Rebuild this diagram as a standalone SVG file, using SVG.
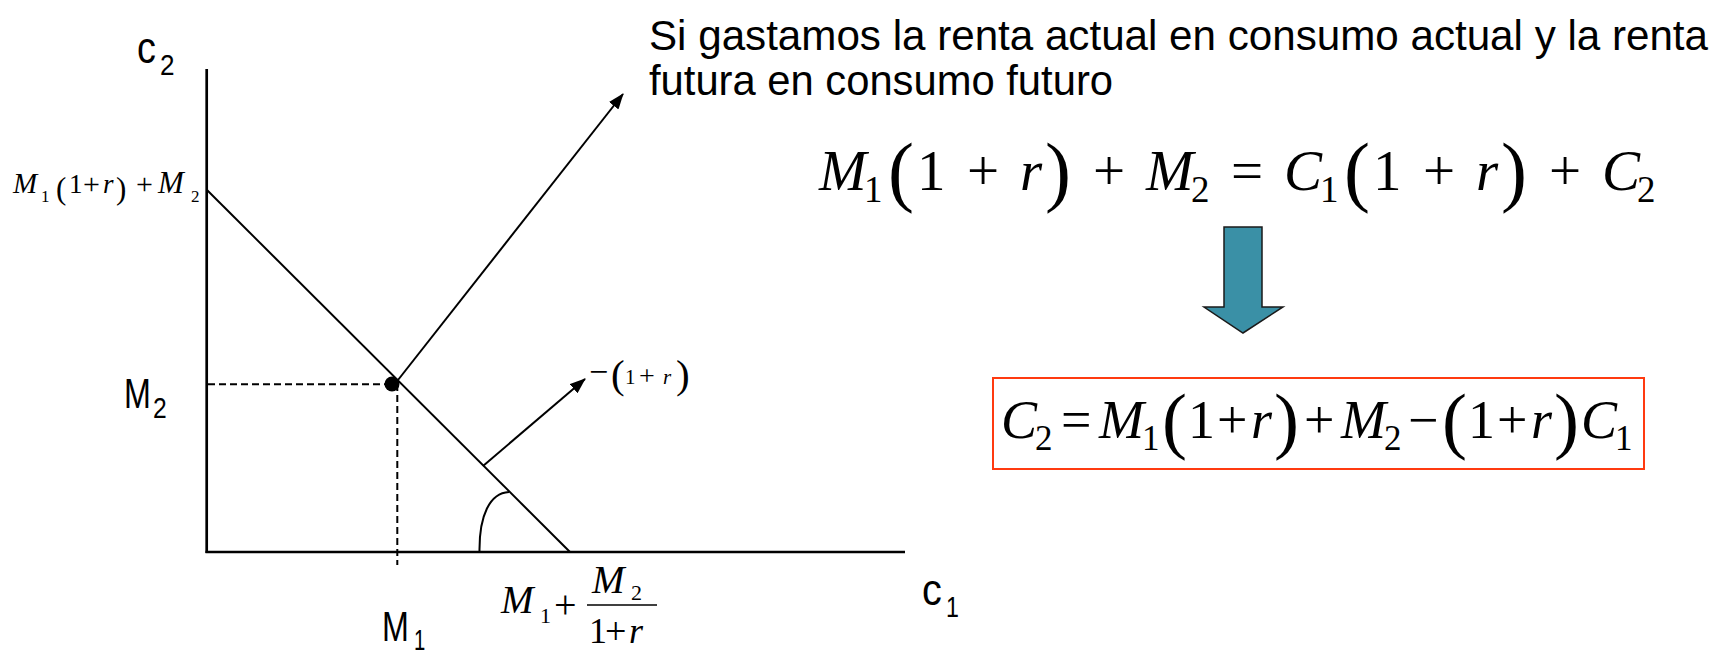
<svg xmlns="http://www.w3.org/2000/svg" width="1731" height="653" viewBox="0 0 1731 653">
<style>
.lbl{font-family:"Liberation Sans",Arial,sans-serif;fill:#000}
.m{font-family:"Liberation Serif","Times New Roman",serif;fill:#000}
.i{font-style:italic}
.ax{stroke:#000;stroke-width:2.7;fill:none}
.ln{stroke:#000;stroke-width:2;fill:none}
.dash{stroke:#000;stroke-width:2;stroke-dasharray:7 4;fill:none}
</style>
<defs>
<marker id="ah" viewBox="0 0 16 12" refX="15" refY="6" markerWidth="16" markerHeight="12" markerUnits="userSpaceOnUse" orient="auto">
<path d="M0,0 L16,6 L0,12 Z" fill="#000"/>
</marker>
</defs>
<rect width="1731" height="653" fill="#fff"/>

<g id="axes">
<line class="ax" x1="206.7" y1="69" x2="206.7" y2="553"/>
<line class="ax" x1="205.5" y1="552" x2="905" y2="552"/>
</g>

<g id="budget-line">
<line class="ln" x1="207" y1="190" x2="570" y2="552"/>
<path class="ln" d="M479.5,552 C479,515 490,493 509,492"/>
</g>

<g id="endowment">
<line class="dash" x1="208" y1="384.3" x2="392" y2="384.3"/>
<line class="dash" x1="397.3" y1="384" x2="397.3" y2="565"/>
<circle cx="392" cy="384" r="7.5" fill="#000"/>
</g>

<g id="connectors">
<line class="ln" x1="398" y1="380" x2="623" y2="94" marker-end="url(#ah)"/>
<line class="ln" x1="483" y1="466" x2="585" y2="379" marker-end="url(#ah)"/>
</g>

<g id="label-c2">
<text class="lbl" font-size="44" transform="translate(137,63) scale(0.86,1)">c</text>
<text class="lbl" font-size="29" transform="translate(160,75) scale(0.9,1)">2</text>
</g>
<g id="label-c1">
<text class="lbl" font-size="44" transform="translate(922,605) scale(0.9,1)">c</text>
<text class="lbl" font-size="29" transform="translate(946,617) scale(0.8,1)">1</text>
</g>
<g id="label-M2">
<text class="lbl" font-size="43" transform="translate(124,408) scale(0.75,1)">M</text>
<text class="lbl" font-size="29" transform="translate(153,418) scale(0.85,1)">2</text>
</g>
<g id="label-M1">
<text class="lbl" font-size="43" transform="translate(382,641) scale(0.75,1)">M</text>
<text class="lbl" font-size="29" transform="translate(414,650) scale(0.7,1)">1</text>
</g>

<g id="label-intercept-y">
<text class="m" font-size="27"><tspan class="i" font-size="29" x="13" y="193">M</tspan><tspan font-size="17" x="41" y="202">1</tspan><tspan font-size="31" x="56" y="199">(</tspan><tspan x="69" y="193">1</tspan><tspan font-size="30" x="83" y="194">+</tspan><tspan class="i" x="103" y="193">r</tspan><tspan font-size="31" x="116" y="199">)</tspan><tspan font-size="30" x="136" y="194">+</tspan><tspan class="i" font-size="31" x="158" y="193">M</tspan><tspan font-size="17" x="191" y="202">2</tspan></text>
</g>

<g id="label-intercept-x">
<text class="m" font-size="36"><tspan class="i" font-size="39" x="501" y="613">M</tspan><tspan font-size="22" x="540" y="623">1</tspan><tspan font-size="40" x="554" y="618">+</tspan><tspan class="i" font-size="39" x="592" y="593">M</tspan><tspan font-size="22" x="631" y="600">2</tspan><tspan x="589" y="643">1</tspan><tspan font-size="38" x="605" y="644">+</tspan><tspan class="i" x="629" y="643">r</tspan></text>
<line x1="587" y1="605" x2="657" y2="605" stroke="#000" stroke-width="1.6"/>
</g>

<g id="label-slope">
<text class="m" font-size="21"><tspan font-size="34" x="589" y="383">−</tspan><tspan font-size="41" x="611" y="388">(</tspan><tspan x="625" y="384">1</tspan><tspan font-size="28" x="639" y="385">+</tspan><tspan class="i" x="663" y="384">r</tspan><tspan font-size="41" x="676" y="388">)</tspan></text>
</g>

<g id="title">
<text class="lbl" x="649" y="50" font-size="42" textLength="1059" lengthAdjust="spacingAndGlyphs">Si gastamos la renta actual en consumo actual y la renta</text>
<text class="lbl" x="649" y="95" font-size="42" textLength="464" lengthAdjust="spacingAndGlyphs">futura en consumo futuro</text>
</g>

<g id="equation">
<text class="m" font-size="57"><tspan class="i" x="819" y="190">M</tspan><tspan font-size="37" x="864" y="202">1</tspan><tspan font-size="78" x="888" y="197">(</tspan><tspan x="917" y="190">1</tspan><tspan x="967" y="190">+</tspan><tspan class="i" x="1020" y="190">r</tspan><tspan font-size="78" x="1045" y="197">)</tspan><tspan x="1093" y="190">+</tspan><tspan class="i" x="1146" y="190">M</tspan><tspan font-size="37" x="1191" y="202">2</tspan><tspan x="1231" y="190">=</tspan><tspan class="i" x="1284" y="190">C</tspan><tspan font-size="37" x="1320" y="202">1</tspan><tspan font-size="78" x="1344" y="197">(</tspan><tspan x="1373" y="190">1</tspan><tspan x="1423" y="190">+</tspan><tspan class="i" x="1476" y="190">r</tspan><tspan font-size="78" x="1501" y="197">)</tspan><tspan x="1549" y="190">+</tspan><tspan class="i" x="1602" y="190">C</tspan><tspan font-size="37" x="1637" y="202">2</tspan></text>
</g>

<g id="down-arrow">
<path d="M1224,227 L1262,227 L1262,307 L1283,307 L1243,333 L1204,307 L1224,307 Z" fill="#3A90A6" stroke="#1a1a1a" stroke-width="1.5"/>
</g>

<g id="result">
<rect x="993" y="378" width="651" height="91" fill="none" stroke="#FF3A10" stroke-width="2"/>
<text class="m" font-size="54"><tspan class="i" x="1001" y="438">C</tspan><tspan font-size="35" x="1035" y="450">2</tspan><tspan x="1061" y="438">=</tspan><tspan class="i" x="1099" y="438">M</tspan><tspan font-size="35" x="1142" y="450">1</tspan><tspan font-size="75" x="1162" y="445">(</tspan><tspan x="1188" y="438">1</tspan><tspan x="1217" y="438">+</tspan><tspan class="i" x="1251" y="438">r</tspan><tspan font-size="75" x="1274" y="445">)</tspan><tspan x="1304" y="438">+</tspan><tspan class="i" x="1341" y="438">M</tspan><tspan font-size="35" x="1384" y="450">2</tspan><tspan x="1408" y="438">−</tspan><tspan font-size="75" x="1442" y="445">(</tspan><tspan x="1468" y="438">1</tspan><tspan x="1497" y="438">+</tspan><tspan class="i" x="1531" y="438">r</tspan><tspan font-size="75" x="1554" y="445">)</tspan><tspan class="i" x="1581" y="438">C</tspan><tspan font-size="35" x="1615" y="450">1</tspan></text>
</g>
</svg>
